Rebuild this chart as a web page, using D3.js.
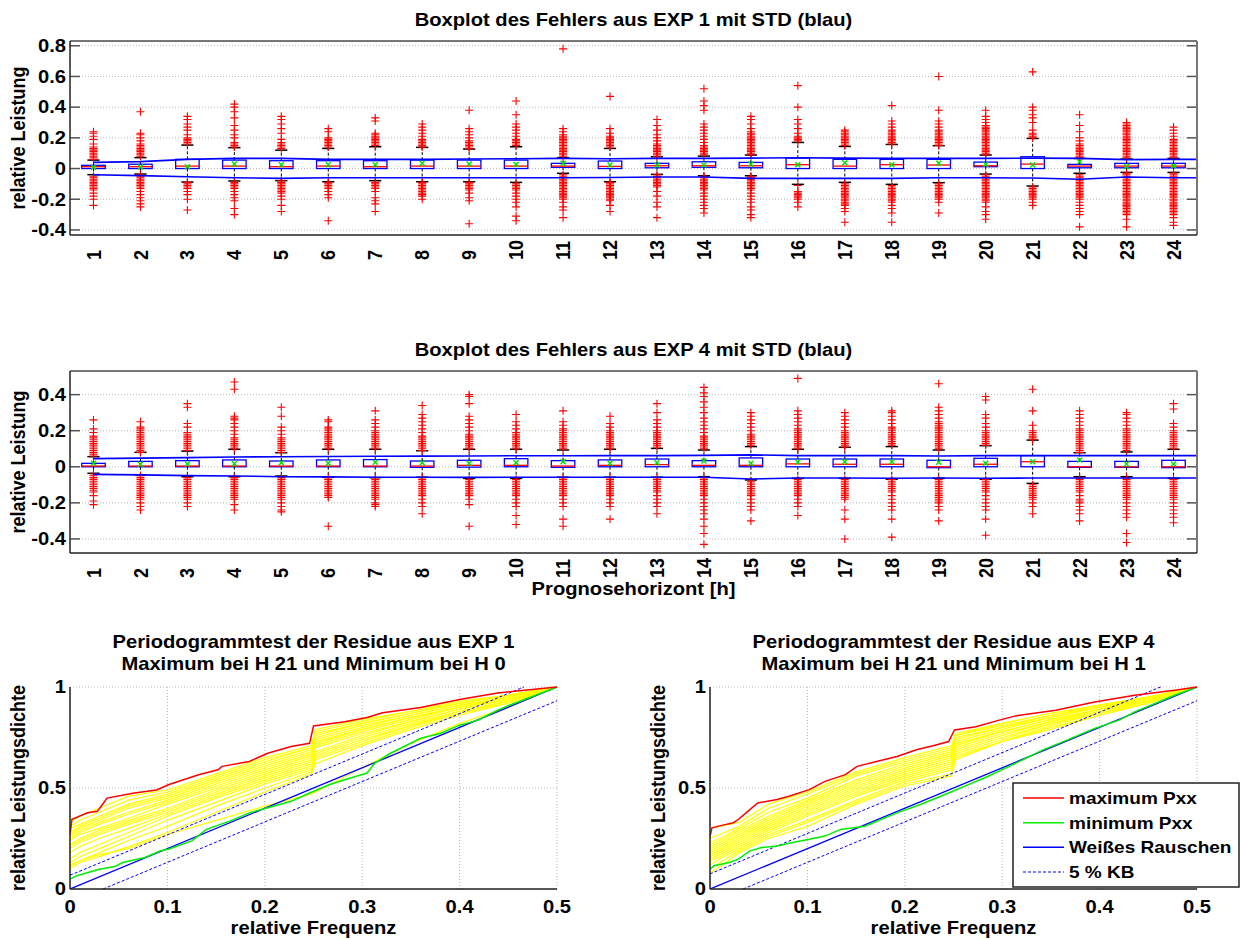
<!DOCTYPE html>
<html><head><meta charset="utf-8">
<script src="https://cdn.jsdelivr.net/npm/d3@7"></script>
<style>body{margin:0;background:#fff}svg{display:block}text{font-family:"Liberation Sans",Arial,sans-serif;font-weight:bold;fill:#000}</style>
</head><body><svg id="c" width="1241" height="940"></svg>
<script>
// ---------------- DATA ----------------
const hourLabels = ["1","2","3","4","5","6","7","8","9","10","11","12","13","14","15","16","17","18","19","20","21","22","23","24"];

const exp1YTicks = [-0.4,-0.2,0,0.2,0.4,0.6,0.8];
const exp1YTickLabels = ["-0.4","-0.2","0","0.2","0.4","0.6","0.8"];
const exp4YTicks = [-0.4,-0.2,0,0.2,0.4];
const exp4YTickLabels = ["-0.4","-0.2","0","0.2","0.4"];

const exp1Q1 = [0,0,0,0,0,0,0,0,0,0,0.008,0,0.005,0.008,0.005,0,0,0,0,0.012,0,0.005,0.005,0.005];
const exp1Median = [0.012,0.012,0.016,0.016,0.012,0.016,0.012,0.016,0.016,0.016,0.016,0.014,0.018,0.018,0.018,0.025,0.016,0.025,0.023,0.018,0.029,0.016,0.016,0.016];
const exp1Q3 = [0.021,0.028,0.060,0.055,0.051,0.051,0.051,0.055,0.055,0.055,0.034,0.049,0.034,0.044,0.040,0.068,0.060,0.060,0.060,0.042,0.077,0.027,0.034,0.034];
const exp1WhiskerLow = [-0.040,-0.036,-0.088,-0.081,-0.079,-0.086,-0.079,-0.086,-0.086,-0.090,-0.031,-0.086,-0.038,-0.047,-0.047,-0.103,-0.090,-0.103,-0.092,-0.036,-0.114,-0.031,-0.025,-0.025];
const exp1WhiskerHigh = [0.055,0.071,0.153,0.136,0.120,0.131,0.142,0.138,0.127,0.142,0.071,0.131,0.077,0.081,0.088,0.170,0.144,0.157,0.149,0.088,0.196,0.066,0.062,0.066];
const exp1Mean = [0.008,0.010,0.012,0.029,0.025,0.025,0.025,0.034,0.029,0.027,0.034,0.023,0.023,0.023,0.029,0.025,0.038,0.025,0.034,0.027,0.023,0.044,0.014,0.016];
const exp1StdUpper = [0.040,0.045,0.060,0.066,0.066,0.060,0.060,0.060,0.062,0.064,0.066,0.064,0.066,0.066,0.068,0.070,0.068,0.066,0.066,0.066,0.068,0.066,0.058,0.060];
const exp1StdLower = [-0.040,-0.046,-0.053,-0.060,-0.064,-0.060,-0.060,-0.060,-0.060,-0.060,-0.060,-0.058,-0.055,-0.055,-0.064,-0.064,-0.064,-0.064,-0.060,-0.060,-0.062,-0.070,-0.055,-0.060];
const exp1OutliersHigh = [
 [0.06,0.07,0.08,0.09,0.10,0.11,0.12,0.13,0.14,0.16,0.19,0.21,0.23,0.24],
 [0.08,0.09,0.10,0.11,0.12,0.13,0.14,0.15,0.16,0.18,0.20,0.22,0.23,0.37],
 [0.16,0.17,0.18,0.19,0.20,0.22,0.25,0.27,0.29,0.32,0.34],
 [0.14,0.15,0.16,0.17,0.20,0.22,0.25,0.28,0.33,0.37,0.40,0.42],
 [0.13,0.14,0.15,0.16,0.17,0.19,0.23,0.26,0.29,0.32,0.34],
 [0.14,0.15,0.16,0.17,0.18,0.19,0.20,0.24,0.26],
 [0.15,0.16,0.17,0.18,0.19,0.20,0.21,0.22,0.23,0.31,0.33],
 [0.14,0.15,0.16,0.17,0.18,0.19,0.21,0.23,0.25,0.27,0.29],
 [0.13,0.14,0.15,0.16,0.17,0.18,0.20,0.22,0.24,0.26,0.38],
 [0.15,0.16,0.17,0.18,0.19,0.21,0.23,0.25,0.27,0.29,0.35,0.44],
 [0.08,0.09,0.10,0.11,0.12,0.13,0.14,0.15,0.16,0.17,0.18,0.19,0.20,0.21,0.22,0.24,0.26,0.78],
 [0.14,0.15,0.16,0.17,0.18,0.19,0.20,0.21,0.23,0.26,0.47],
 [0.08,0.09,0.10,0.11,0.12,0.13,0.14,0.15,0.16,0.18,0.20,0.22,0.25,0.28,0.32],
 [0.09,0.10,0.11,0.12,0.13,0.14,0.15,0.17,0.19,0.21,0.23,0.25,0.27,0.29,0.38,0.41,0.44,0.52],
 [0.09,0.10,0.11,0.12,0.13,0.14,0.15,0.16,0.17,0.18,0.19,0.20,0.21,0.22,0.23,0.24,0.26,0.29,0.32,0.34],
 [0.18,0.19,0.20,0.21,0.23,0.26,0.29,0.32,0.40,0.54],
 [0.15,0.16,0.17,0.18,0.19,0.20,0.21,0.22,0.23,0.24,0.25],
 [0.16,0.17,0.18,0.19,0.20,0.21,0.22,0.23,0.24,0.25,0.27,0.29,0.31,0.41],
 [0.15,0.16,0.17,0.18,0.19,0.20,0.21,0.22,0.23,0.24,0.25,0.27,0.29,0.31,0.38,0.60],
 [0.09,0.10,0.11,0.12,0.13,0.14,0.15,0.16,0.17,0.18,0.19,0.20,0.21,0.22,0.23,0.24,0.25,0.26,0.27,0.28,0.30,0.32,0.34,0.38],
 [0.20,0.21,0.22,0.23,0.25,0.30,0.33,0.35,0.38,0.40,0.63],
 [0.07,0.08,0.09,0.10,0.11,0.12,0.13,0.14,0.15,0.16,0.18,0.20,0.24,0.28,0.35],
 [0.07,0.08,0.09,0.10,0.11,0.12,0.13,0.14,0.15,0.16,0.17,0.18,0.19,0.20,0.21,0.22,0.23,0.24,0.25,0.26,0.27,0.28,0.29,0.30],
 [0.07,0.08,0.09,0.10,0.11,0.12,0.13,0.14,0.15,0.16,0.17,0.18,0.19,0.21,0.23,0.25,0.27]
];
const exp1OutliersLow = [
 [-0.05,-0.06,-0.07,-0.08,-0.09,-0.10,-0.11,-0.12,-0.13,-0.14,-0.16,-0.18,-0.20,-0.24],
 [-0.04,-0.05,-0.06,-0.07,-0.08,-0.09,-0.10,-0.11,-0.12,-0.13,-0.15,-0.17,-0.19,-0.21,-0.23,-0.25],
 [-0.09,-0.10,-0.11,-0.12,-0.13,-0.15,-0.17,-0.20,-0.27],
 [-0.09,-0.10,-0.11,-0.12,-0.13,-0.15,-0.17,-0.19,-0.21,-0.26,-0.30],
 [-0.08,-0.09,-0.10,-0.11,-0.12,-0.13,-0.14,-0.15,-0.16,-0.18,-0.20,-0.24,-0.28],
 [-0.09,-0.10,-0.11,-0.12,-0.13,-0.15,-0.17,-0.19,-0.34],
 [-0.09,-0.10,-0.11,-0.12,-0.13,-0.15,-0.19,-0.21,-0.23,-0.28],
 [-0.09,-0.10,-0.11,-0.12,-0.13,-0.14,-0.15,-0.16,-0.17,-0.18,-0.20],
 [-0.09,-0.10,-0.11,-0.12,-0.13,-0.14,-0.16,-0.19,-0.21,-0.36],
 [-0.10,-0.11,-0.12,-0.13,-0.14,-0.16,-0.18,-0.20,-0.22,-0.25,-0.31,-0.34],
 [-0.04,-0.05,-0.06,-0.07,-0.08,-0.09,-0.10,-0.11,-0.12,-0.13,-0.14,-0.15,-0.16,-0.17,-0.18,-0.19,-0.20,-0.22,-0.25,-0.27,-0.32],
 [-0.09,-0.10,-0.11,-0.12,-0.13,-0.14,-0.15,-0.16,-0.17,-0.18,-0.19,-0.20,-0.21,-0.24,-0.28],
 [-0.04,-0.05,-0.06,-0.07,-0.08,-0.09,-0.10,-0.11,-0.12,-0.15,-0.18,-0.22,-0.25,-0.32],
 [-0.05,-0.06,-0.07,-0.08,-0.09,-0.10,-0.11,-0.12,-0.13,-0.14,-0.16,-0.18,-0.20,-0.22,-0.24,-0.26,-0.29],
 [-0.05,-0.06,-0.07,-0.08,-0.09,-0.10,-0.11,-0.12,-0.13,-0.14,-0.16,-0.18,-0.20,-0.22,-0.25,-0.27,-0.30,-0.32],
 [-0.11,-0.15,-0.16,-0.17,-0.18,-0.19,-0.20,-0.22,-0.25],
 [-0.10,-0.11,-0.12,-0.13,-0.14,-0.15,-0.16,-0.17,-0.18,-0.19,-0.20,-0.21,-0.22,-0.23,-0.24,-0.26,-0.28,-0.35],
 [-0.11,-0.12,-0.13,-0.14,-0.15,-0.16,-0.17,-0.18,-0.19,-0.20,-0.21,-0.22,-0.24,-0.26,-0.29,-0.35],
 [-0.10,-0.11,-0.12,-0.13,-0.14,-0.15,-0.16,-0.17,-0.18,-0.19,-0.20,-0.22,-0.29],
 [-0.04,-0.05,-0.06,-0.07,-0.08,-0.09,-0.10,-0.11,-0.12,-0.13,-0.14,-0.15,-0.16,-0.17,-0.18,-0.19,-0.20,-0.21,-0.22,-0.25,-0.28,-0.30,-0.33],
 [-0.12,-0.13,-0.14,-0.15,-0.16,-0.17,-0.18,-0.19,-0.20,-0.22,-0.24],
 [-0.04,-0.05,-0.06,-0.07,-0.08,-0.09,-0.10,-0.11,-0.12,-0.13,-0.14,-0.15,-0.16,-0.17,-0.18,-0.19,-0.20,-0.22,-0.24,-0.26,-0.28,-0.30,-0.38],
 [-0.03,-0.04,-0.05,-0.06,-0.07,-0.08,-0.09,-0.10,-0.11,-0.12,-0.13,-0.14,-0.15,-0.16,-0.17,-0.18,-0.19,-0.20,-0.21,-0.22,-0.23,-0.24,-0.25,-0.26,-0.27,-0.28,-0.29,-0.30,-0.33,-0.38],
 [-0.03,-0.04,-0.05,-0.06,-0.07,-0.08,-0.09,-0.10,-0.11,-0.12,-0.13,-0.14,-0.15,-0.16,-0.17,-0.18,-0.19,-0.20,-0.21,-0.22,-0.23,-0.24,-0.25,-0.26,-0.27,-0.28,-0.29,-0.30,-0.32,-0.35,-0.37]
];

const exp4Q1 = [0,0,0,0,0,0,0,-0.003,-0.002,0,-0.003,0,0,0,0,0,0,0,-0.005,0,0,-0.003,-0.003,-0.005];
const exp4Median = [0.004,0.004,0.004,0.004,0.004,0.004,0.004,0.004,0.008,0.008,0.004,0.008,0.012,0.008,0.008,0.016,0.014,0.014,0.0,0.014,0.028,0.0,0.0,0.0];
const exp4Q3 = [0.019,0.030,0.034,0.038,0.032,0.038,0.040,0.032,0.036,0.045,0.034,0.038,0.043,0.034,0.049,0.043,0.043,0.043,0.036,0.047,0.062,0.030,0.030,0.036];
const exp4WhiskerLow = [-0.036,-0.045,-0.055,-0.055,-0.051,-0.058,-0.060,-0.058,-0.064,-0.064,-0.058,-0.058,-0.058,-0.055,-0.073,-0.064,-0.064,-0.069,-0.064,-0.069,-0.092,-0.055,-0.055,-0.064];
const exp4WhiskerHigh = [0.056,0.080,0.087,0.097,0.078,0.097,0.097,0.089,0.097,0.097,0.093,0.097,0.102,0.093,0.112,0.097,0.108,0.112,0.093,0.117,0.148,0.078,0.082,0.097];
const exp4Mean = [0.019,0.014,0.016,0.017,0.023,0.019,0.025,0.023,0.019,0.023,0.028,0.019,0.023,0.032,0.019,0.027,0.028,0.028,0.025,0.019,0.028,0.038,0.016,0.016];
const exp4StdUpper = [0.045,0.048,0.051,0.054,0.056,0.057,0.058,0.059,0.060,0.061,0.061,0.062,0.062,0.063,0.066,0.062,0.062,0.062,0.060,0.062,0.062,0.062,0.062,0.062];
const exp4StdLower = [-0.042,-0.045,-0.049,-0.051,-0.055,-0.056,-0.058,-0.058,-0.059,-0.058,-0.058,-0.058,-0.058,-0.058,-0.068,-0.062,-0.062,-0.064,-0.062,-0.064,-0.062,-0.062,-0.062,-0.062];
const exp4OutliersHigh = [
 [0.06,0.07,0.08,0.09,0.10,0.11,0.12,0.13,0.14,0.15,0.16,0.17,0.19,0.21,0.26],
 [0.08,0.09,0.10,0.11,0.12,0.13,0.14,0.15,0.16,0.17,0.18,0.19,0.20,0.21,0.22,0.25],
 [0.09,0.10,0.11,0.12,0.13,0.14,0.15,0.16,0.17,0.18,0.19,0.22,0.24,0.33,0.35],
 [0.10,0.11,0.12,0.13,0.14,0.15,0.16,0.18,0.20,0.22,0.24,0.26,0.27,0.28,0.43,0.47],
 [0.08,0.09,0.10,0.11,0.12,0.13,0.14,0.15,0.16,0.18,0.20,0.22,0.28,0.33],
 [0.10,0.11,0.12,0.13,0.14,0.15,0.16,0.17,0.18,0.19,0.20,0.21,0.22,0.25,0.26],
 [0.10,0.11,0.12,0.13,0.14,0.15,0.16,0.17,0.18,0.19,0.20,0.22,0.24,0.26,0.31],
 [0.09,0.10,0.11,0.12,0.13,0.14,0.15,0.16,0.17,0.19,0.21,0.23,0.25,0.27,0.29,0.34],
 [0.10,0.11,0.12,0.13,0.14,0.15,0.16,0.17,0.18,0.20,0.22,0.24,0.26,0.28,0.35,0.39,0.40],
 [0.10,0.11,0.12,0.13,0.14,0.15,0.16,0.17,0.18,0.19,0.21,0.23,0.25,0.29],
 [0.10,0.11,0.12,0.13,0.14,0.15,0.16,0.17,0.18,0.19,0.20,0.21,0.23,0.25,0.31],
 [0.10,0.11,0.12,0.13,0.14,0.15,0.16,0.17,0.18,0.19,0.20,0.22,0.24,0.28],
 [0.11,0.12,0.13,0.14,0.15,0.16,0.17,0.18,0.19,0.20,0.22,0.24,0.26,0.30,0.35],
 [0.10,0.11,0.12,0.13,0.14,0.15,0.16,0.17,0.19,0.21,0.23,0.25,0.27,0.30,0.33,0.36,0.39,0.41,0.44],
 [0.12,0.13,0.14,0.15,0.16,0.17,0.18,0.20,0.22,0.24,0.26,0.28,0.30],
 [0.10,0.11,0.12,0.13,0.14,0.15,0.16,0.17,0.18,0.19,0.20,0.21,0.23,0.25,0.27,0.29,0.31,0.49],
 [0.11,0.12,0.13,0.14,0.15,0.16,0.17,0.18,0.19,0.20,0.22,0.24,0.26,0.28,0.30],
 [0.12,0.13,0.14,0.15,0.16,0.17,0.18,0.19,0.20,0.21,0.22,0.24,0.26,0.28,0.30,0.31],
 [0.10,0.11,0.12,0.13,0.14,0.15,0.16,0.17,0.18,0.19,0.20,0.21,0.22,0.23,0.24,0.25,0.27,0.29,0.31,0.33,0.46],
 [0.12,0.13,0.14,0.15,0.16,0.17,0.18,0.19,0.20,0.22,0.24,0.27,0.29,0.37,0.39],
 [0.15,0.16,0.17,0.18,0.19,0.20,0.23,0.31,0.43],
 [0.08,0.09,0.10,0.11,0.12,0.13,0.14,0.15,0.16,0.17,0.18,0.19,0.20,0.21,0.23,0.25,0.27,0.29,0.31],
 [0.09,0.10,0.11,0.12,0.13,0.14,0.15,0.16,0.17,0.18,0.19,0.20,0.21,0.23,0.25,0.27,0.29,0.30],
 [0.10,0.11,0.12,0.13,0.14,0.15,0.16,0.17,0.18,0.19,0.20,0.22,0.24,0.32,0.35]
];
const exp4OutliersLow = [
 [-0.04,-0.05,-0.06,-0.07,-0.08,-0.09,-0.10,-0.11,-0.12,-0.13,-0.14,-0.16,-0.19,-0.21],
 [-0.05,-0.06,-0.07,-0.08,-0.09,-0.10,-0.11,-0.12,-0.13,-0.14,-0.15,-0.16,-0.17,-0.18,-0.20,-0.22,-0.24],
 [-0.06,-0.07,-0.08,-0.09,-0.10,-0.11,-0.12,-0.13,-0.14,-0.15,-0.16,-0.17,-0.18,-0.20,-0.22],
 [-0.06,-0.07,-0.08,-0.09,-0.10,-0.11,-0.12,-0.13,-0.14,-0.15,-0.16,-0.17,-0.18,-0.21,-0.24],
 [-0.06,-0.07,-0.08,-0.09,-0.10,-0.11,-0.12,-0.13,-0.14,-0.15,-0.16,-0.17,-0.18,-0.20,-0.22,-0.24,-0.25],
 [-0.06,-0.07,-0.08,-0.09,-0.10,-0.11,-0.12,-0.13,-0.14,-0.15,-0.16,-0.17,-0.33],
 [-0.06,-0.07,-0.08,-0.09,-0.10,-0.11,-0.12,-0.13,-0.14,-0.15,-0.16,-0.17,-0.18,-0.20,-0.21,-0.22],
 [-0.06,-0.07,-0.08,-0.09,-0.10,-0.11,-0.12,-0.13,-0.14,-0.15,-0.16,-0.18,-0.20,-0.22,-0.26],
 [-0.07,-0.08,-0.09,-0.10,-0.11,-0.12,-0.13,-0.14,-0.15,-0.16,-0.18,-0.21,-0.33],
 [-0.07,-0.08,-0.09,-0.10,-0.11,-0.12,-0.13,-0.14,-0.15,-0.16,-0.18,-0.20,-0.22,-0.27,-0.32],
 [-0.06,-0.07,-0.08,-0.09,-0.10,-0.11,-0.12,-0.13,-0.14,-0.15,-0.16,-0.18,-0.20,-0.22,-0.29,-0.33],
 [-0.06,-0.07,-0.08,-0.09,-0.10,-0.11,-0.12,-0.13,-0.14,-0.15,-0.16,-0.18,-0.20,-0.22,-0.29],
 [-0.06,-0.07,-0.08,-0.09,-0.10,-0.11,-0.12,-0.13,-0.14,-0.16,-0.18,-0.20,-0.22,-0.26],
 [-0.06,-0.07,-0.08,-0.09,-0.10,-0.11,-0.12,-0.13,-0.14,-0.15,-0.16,-0.18,-0.20,-0.22,-0.24,-0.26,-0.29,-0.33,-0.37,-0.43],
 [-0.08,-0.09,-0.10,-0.11,-0.12,-0.13,-0.14,-0.15,-0.16,-0.18,-0.20,-0.22,-0.24,-0.30],
 [-0.07,-0.08,-0.09,-0.10,-0.11,-0.12,-0.13,-0.14,-0.15,-0.16,-0.18,-0.20,-0.22,-0.27],
 [-0.07,-0.08,-0.09,-0.10,-0.11,-0.12,-0.13,-0.14,-0.15,-0.16,-0.17,-0.18,-0.24,-0.29,-0.40],
 [-0.07,-0.08,-0.09,-0.10,-0.11,-0.12,-0.13,-0.14,-0.16,-0.18,-0.20,-0.22,-0.24,-0.29,-0.39],
 [-0.07,-0.08,-0.09,-0.10,-0.11,-0.12,-0.13,-0.14,-0.15,-0.16,-0.17,-0.18,-0.19,-0.20,-0.22,-0.24,-0.30],
 [-0.07,-0.08,-0.09,-0.10,-0.11,-0.12,-0.13,-0.14,-0.16,-0.18,-0.20,-0.22,-0.24,-0.29,-0.38],
 [-0.10,-0.11,-0.12,-0.13,-0.14,-0.15,-0.16,-0.17,-0.18,-0.20,-0.22,-0.26],
 [-0.06,-0.07,-0.08,-0.09,-0.10,-0.11,-0.12,-0.13,-0.14,-0.16,-0.18,-0.19,-0.20,-0.22,-0.24,-0.26,-0.30],
 [-0.06,-0.07,-0.08,-0.09,-0.10,-0.11,-0.12,-0.13,-0.14,-0.15,-0.16,-0.17,-0.18,-0.20,-0.22,-0.24,-0.26,-0.28,-0.37,-0.42],
 [-0.07,-0.08,-0.09,-0.10,-0.11,-0.12,-0.13,-0.14,-0.15,-0.16,-0.17,-0.18,-0.20,-0.22,-0.24,-0.26,-0.28,-0.31]
];

// Periodogram data
const perXTicks = [0,0.1,0.2,0.3,0.4,0.5];
const perXTickLabels = ["0","0.1","0.2","0.3","0.4","0.5"];
const perYTicks = [0,0.5,1];
const perYTickLabels = ["0","0.5","1"];
const yellowF = [0,0.01,0.03,0.06,0.1,0.15,0.2,0.248,0.252,0.3,0.35,0.4,0.45,0.5];
const exp1Yellow = [
 [0.33,0.36,0.40,0.46,0.49,0.57,0.65,0.71,0.79,0.84,0.88,0.93,0.96,1],
 [0.31,0.34,0.38,0.44,0.48,0.56,0.64,0.70,0.78,0.83,0.88,0.92,0.96,1],
 [0.30,0.32,0.36,0.42,0.47,0.55,0.63,0.70,0.77,0.82,0.87,0.92,0.96,1],
 [0.28,0.31,0.35,0.41,0.46,0.54,0.62,0.69,0.76,0.82,0.87,0.92,0.96,1],
 [0.27,0.30,0.34,0.40,0.45,0.53,0.61,0.68,0.75,0.81,0.86,0.91,0.95,1],
 [0.26,0.29,0.33,0.38,0.44,0.52,0.60,0.67,0.74,0.80,0.86,0.91,0.95,1],
 [0.25,0.28,0.32,0.37,0.43,0.51,0.59,0.66,0.73,0.79,0.85,0.90,0.95,1],
 [0.24,0.27,0.30,0.35,0.42,0.50,0.58,0.65,0.72,0.79,0.85,0.90,0.95,1],
 [0.22,0.25,0.29,0.34,0.40,0.49,0.57,0.64,0.71,0.78,0.84,0.90,0.94,1],
 [0.21,0.24,0.28,0.33,0.39,0.48,0.56,0.63,0.70,0.77,0.83,0.89,0.94,1],
 [0.20,0.23,0.27,0.32,0.38,0.47,0.55,0.62,0.68,0.76,0.83,0.89,0.94,1],
 [0.18,0.21,0.25,0.30,0.37,0.46,0.54,0.61,0.67,0.75,0.82,0.88,0.93,1],
 [0.15,0.18,0.22,0.28,0.36,0.45,0.53,0.60,0.66,0.74,0.81,0.88,0.93,1],
 [0.13,0.16,0.20,0.26,0.34,0.43,0.52,0.59,0.65,0.73,0.81,0.87,0.93,1],
 [0.11,0.14,0.18,0.24,0.31,0.41,0.50,0.58,0.64,0.72,0.80,0.87,0.92,1],
 [0.10,0.13,0.16,0.21,0.28,0.38,0.48,0.57,0.62,0.71,0.79,0.86,0.92,1],
 [0.12,0.14,0.17,0.20,0.27,0.34,0.41,0.47,0.48,0.60,0.72,0.82,0.90,1]
];
const exp4Yellow = [
 [0.30,0.31,0.33,0.42,0.48,0.58,0.65,0.71,0.77,0.82,0.87,0.91,0.95,1],
 [0.25,0.27,0.31,0.40,0.47,0.57,0.64,0.70,0.76,0.82,0.87,0.91,0.95,1],
 [0.23,0.25,0.30,0.38,0.45,0.56,0.63,0.69,0.76,0.81,0.86,0.91,0.95,1],
 [0.22,0.24,0.29,0.36,0.44,0.54,0.62,0.68,0.75,0.80,0.86,0.90,0.95,1],
 [0.21,0.23,0.28,0.35,0.43,0.53,0.61,0.67,0.74,0.80,0.85,0.90,0.94,1],
 [0.20,0.22,0.27,0.34,0.42,0.52,0.60,0.66,0.73,0.79,0.85,0.90,0.94,1],
 [0.19,0.21,0.26,0.33,0.41,0.51,0.59,0.65,0.72,0.78,0.84,0.89,0.94,1],
 [0.18,0.20,0.25,0.32,0.40,0.50,0.58,0.64,0.71,0.78,0.84,0.89,0.94,1],
 [0.17,0.19,0.24,0.31,0.39,0.49,0.57,0.63,0.70,0.77,0.83,0.89,0.93,1],
 [0.16,0.18,0.23,0.30,0.38,0.48,0.56,0.62,0.69,0.76,0.83,0.88,0.93,1],
 [0.15,0.17,0.22,0.29,0.37,0.47,0.55,0.61,0.68,0.75,0.82,0.88,0.93,1],
 [0.14,0.16,0.21,0.28,0.36,0.46,0.54,0.60,0.67,0.74,0.82,0.87,0.93,1],
 [0.12,0.15,0.20,0.27,0.34,0.44,0.53,0.59,0.66,0.73,0.81,0.87,0.92,1],
 [0.10,0.13,0.19,0.26,0.33,0.43,0.52,0.57,0.65,0.73,0.80,0.86,0.92,1],
 [0.08,0.11,0.18,0.25,0.31,0.42,0.51,0.56,0.64,0.73,0.79,0.86,0.92,1]
];
const exp1MaxF = [0,0.002,0.018,0.028,0.032,0.038,0.066,0.089,0.101,0.132,0.152,0.156,0.184,0.203,0.227,0.246,0.250,0.282,0.305,0.321,0.36,0.40,0.439,0.459,0.5];
const exp1MaxV = [0.27,0.345,0.377,0.385,0.41,0.45,0.475,0.49,0.516,0.566,0.59,0.607,0.631,0.672,0.705,0.721,0.807,0.828,0.849,0.872,0.898,0.938,0.970,0.98,1.0];
const exp1MinF = [0,0.007,0.03,0.046,0.054,0.077,0.093,0.101,0.125,0.14,0.164,0.184,0.203,0.227,0.246,0.266,0.282,0.305,0.313,0.329,0.36,0.38,0.40,0.419,0.439,0.451,0.478,0.5];
const exp1MinV = [0.049,0.066,0.098,0.111,0.131,0.156,0.189,0.197,0.238,0.295,0.336,0.377,0.402,0.434,0.475,0.516,0.541,0.574,0.623,0.672,0.746,0.77,0.811,0.836,0.885,0.91,0.959,1.0];
const exp4MaxF = [0,0.002,0.012,0.024,0.029,0.037,0.049,0.069,0.081,0.102,0.118,0.139,0.151,0.171,0.192,0.212,0.232,0.245,0.251,0.273,0.297,0.314,0.355,0.395,0.436,0.477,0.5];
const exp4MaxV = [0.26,0.303,0.315,0.328,0.344,0.377,0.426,0.443,0.459,0.492,0.533,0.566,0.607,0.631,0.656,0.689,0.713,0.73,0.787,0.803,0.836,0.857,0.885,0.926,0.959,0.984,1.0];
const exp4MinF = [0,0.004,0.02,0.029,0.041,0.053,0.069,0.081,0.102,0.118,0.134,0.159,0.192,0.216,0.245,0.261,0.285,0.314,0.342,0.367,0.395,0.42,0.436,0.477,0.5];
const exp4MinV = [0.098,0.115,0.131,0.148,0.189,0.205,0.213,0.226,0.246,0.262,0.295,0.311,0.377,0.418,0.475,0.508,0.557,0.623,0.689,0.738,0.795,0.836,0.877,0.959,1.0];
const whiteNoiseF = [0,0.5];
const whiteNoiseV = [0,1];
const exp1KbUpperF = [0,0.466], exp1KbUpperV = [0.068,1];
const exp1KbLowerF = [0.034,0.5], exp1KbLowerV = [0,0.932];
const exp4KbUpperF = [0,0.4625], exp4KbUpperV = [0.075,1];
const exp4KbLowerF = [0.034,0.5], exp4KbLowerV = [0,0.932];
const legendLabels = ["maximum Pxx","minimum Pxx","Weißes Rauschen","5 % KB"];

// ---------------- DRAWING ----------------
const svg = d3.select('#c');
const SX = 1.12;
const FS = 18;
let clipId = 0;
function label(g, x, y, str, o = {}) {
  const size = o.size || FS;
  const tr = o.rotate ? `translate(${x},${y}) rotate(-90) scale(1,${SX})` : `translate(${x},${y}) scale(${SX},1)`;
  return g.append('text').attr('transform', tr).attr('text-anchor', o.anchor || 'middle')
    .attr('dy', o.dy == null ? '0.35em' : o.dy).style('font-size', size + 'px').text(str);
}
function clip(g, l, t, r, b) {
  const id = 'clip' + (clipId++);
  g.append('clipPath').attr('id', id).append('rect').attr('x', l).attr('y', t).attr('width', r - l).attr('height', b - t);
  return 'url(#' + id + ')';
}

function boxPanel(cfg) {
  const g = svg.append('g');
  const x = d3.scaleBand().domain(hourLabels).range([cfg.left, cfg.right]).padding(0);
  const y = d3.scaleLinear().domain(cfg.yDomain).range([cfg.bottom, cfg.top]);
  const bw = x.bandwidth();
  const cx = h => x(h) + bw / 2;
  const cp = clip(g, cfg.left, cfg.top, cfg.right, cfg.bottom);
  g.selectAll(null).data(cfg.yTicks).join('line')
    .attr('x1', cfg.left).attr('x2', cfg.right).attr('y1', d => y(d)).attr('y2', d => y(d))
    .attr('stroke', '#b8b8b8').attr('stroke-dasharray', '1,2').attr('stroke-width', 1);
  g.selectAll(null).data(cfg.yTicks).join('line')
    .attr('x1', cfg.left).attr('x2', cfg.left + 10).attr('y1', d => y(d)).attr('y2', d => y(d))
    .attr('stroke', '#555').attr('stroke-width', 1.5);
  g.selectAll(null).data(cfg.yTicks).join('line')
    .attr('x1', cfg.right - 10).attr('x2', cfg.right).attr('y1', d => y(d)).attr('y2', d => y(d))
    .attr('stroke', '#555').attr('stroke-width', 1.5);
  cfg.yTicks.forEach((t, i) => label(g, cfg.left - 4, y(t), cfg.yTickLabels[i], { anchor: 'end' }));

  const plot = g.append('g').attr('clip-path', cp);
  hourLabels.forEach((h, i) => {
    const c = cx(h);
    plot.append('line').attr('x1', c).attr('x2', c).attr('y1', y(cfg.q3[i])).attr('y2', y(cfg.whi[i]))
      .attr('stroke', '#000').attr('stroke-dasharray', '3,2').attr('stroke-width', 1);
    plot.append('line').attr('x1', c).attr('x2', c).attr('y1', y(cfg.q1[i])).attr('y2', y(cfg.wlo[i]))
      .attr('stroke', '#000').attr('stroke-dasharray', '3,2').attr('stroke-width', 1);
    [cfg.whi[i], cfg.wlo[i]].forEach(v => plot.append('line')
      .attr('x1', c - bw * 0.13).attr('x2', c + bw * 0.13).attr('y1', y(v)).attr('y2', y(v))
      .attr('stroke', '#000').attr('stroke-width', 1.5));
  });
  hourLabels.forEach((h, i) => {
    const c = cx(h);
    cfg.outHi[i].concat(cfg.outLo[i]).forEach(v => plot.append('path')
      .attr('d', 'M-4,0H4M0,-4V4').attr('transform', `translate(${c},${y(v)})`)
      .attr('stroke', '#ff0000').attr('stroke-width', 1.1).attr('fill', 'none'));
  });
  hourLabels.forEach((h, i) => {
    const c = cx(h);
    plot.append('rect').attr('x', c - bw * 0.25).attr('width', bw * 0.5)
      .attr('y', y(cfg.q3[i])).attr('height', Math.max(1, y(cfg.q1[i]) - y(cfg.q3[i])))
      .attr('fill', 'none').attr('stroke', '#0000ff').attr('stroke-width', 1.3);
    plot.append('line').attr('x1', c - bw * 0.25).attr('x2', c + bw * 0.25)
      .attr('y1', y(cfg.med[i])).attr('y2', y(cfg.med[i])).attr('stroke', '#ff0000').attr('stroke-width', 1.3);
    plot.append('path').attr('d', 'M-2.5,-2.5L2.5,2.5M-2.5,2.5L2.5,-2.5')
      .attr('transform', `translate(${c},${y(cfg.mean[i])})`).attr('stroke', '#00e000').attr('stroke-width', 1.4);
  });
  [cfg.stdUp, cfg.stdLo].forEach(arr => {
    const pts = hourLabels.map((h, i) => [cx(h), y(arr[i])]);
    pts.push([x.range()[1], y(arr[arr.length - 1])]);
    plot.append('path').attr('d', d3.line()(pts)).attr('fill', 'none').attr('stroke', '#0000ff').attr('stroke-width', 1.6);
  });
  g.append('line').attr('x1', cfg.left).attr('x2', cfg.right).attr('y1', cfg.top).attr('y2', cfg.top).attr('stroke', '#777').attr('stroke-width', 2);
  g.append('line').attr('x1', cfg.right).attr('x2', cfg.right).attr('y1', cfg.top).attr('y2', cfg.bottom).attr('stroke', '#777').attr('stroke-width', 2);
  g.append('line').attr('x1', cfg.left).attr('x2', cfg.left).attr('y1', cfg.top).attr('y2', cfg.bottom).attr('stroke', '#222').attr('stroke-width', 1.5);
  g.append('line').attr('x1', cfg.left).attr('x2', cfg.right).attr('y1', cfg.bottom).attr('y2', cfg.bottom).attr('stroke', '#222').attr('stroke-width', 1.5);
  hourLabels.forEach(h => label(g, cx(h), cfg.xLabelBase, h, { rotate: true, anchor: 'start' }));
  label(g, (cfg.left + cfg.right) / 2, cfg.top - 21, cfg.title);
  label(g, 18, (cfg.top + cfg.bottom) / 2, 'relative Leistung', { rotate: true });
  if (cfg.xTitle) label(g, (cfg.left + cfg.right) / 2, cfg.xTitleY, cfg.xTitle);
}

function perPanel(cfg) {
  const g = svg.append('g');
  const x = d3.scaleLinear().domain([0, 0.5]).range([cfg.left, cfg.right]);
  const y = d3.scaleLinear().domain([0, 1]).range([cfg.bottom, cfg.top]);
  const cp = clip(g, cfg.left, cfg.top - 1, cfg.right + 1, cfg.bottom);
  g.selectAll(null).data(perXTicks).join('line')
    .attr('x1', d => x(d)).attr('x2', d => x(d)).attr('y1', cfg.top).attr('y2', cfg.bottom)
    .attr('stroke', '#b8b8b8').attr('stroke-dasharray', '1,2');
  g.selectAll(null).data(perYTicks).join('line')
    .attr('x1', cfg.left).attr('x2', cfg.right).attr('y1', d => y(d)).attr('y2', d => y(d))
    .attr('stroke', '#b8b8b8').attr('stroke-dasharray', '1,2');
  const plot = g.append('g').attr('clip-path', cp);
  const line = d3.line().x(d => x(d[0])).y(d => y(d[1]));
  const zip = (F, V) => F.map((f, i) => [f, V[i]]);
  cfg.yellow.forEach(arr => plot.append('path').attr('d', line(zip(yellowF, arr)))
    .attr('fill', 'none').attr('stroke', '#ffff00').attr('stroke-width', 1.2));
  plot.append('path').attr('d', line(zip(whiteNoiseF, whiteNoiseV))).attr('fill', 'none').attr('stroke', '#0000ff').attr('stroke-width', 1.3);
  [[cfg.kbUF, cfg.kbUV], [cfg.kbLF, cfg.kbLV]].forEach(([F, V]) => plot.append('path').attr('d', line(zip(F, V)))
    .attr('fill', 'none').attr('stroke', '#0000ff').attr('stroke-width', 1).attr('stroke-dasharray', '3,2'));
  plot.append('path').attr('d', line(zip(cfg.minF, cfg.minV))).attr('fill', 'none').attr('stroke', '#00ee00').attr('stroke-width', 1.5);
  plot.append('path').attr('d', line(zip(cfg.maxF, cfg.maxV))).attr('fill', 'none').attr('stroke', '#ff0000').attr('stroke-width', 1.5);
  g.append('line').attr('x1', cfg.left).attr('x2', cfg.left).attr('y1', cfg.top).attr('y2', cfg.bottom).attr('stroke', '#222').attr('stroke-width', 1.5);
  g.append('line').attr('x1', cfg.left).attr('x2', cfg.right).attr('y1', cfg.bottom).attr('y2', cfg.bottom).attr('stroke', '#222').attr('stroke-width', 1.5);
  perXTicks.forEach((t, i) => label(g, x(t), cfg.bottom + 18, perXTickLabels[i]));
  perYTicks.forEach((t, i) => label(g, cfg.left - 4, y(t), perYTickLabels[i], { anchor: 'end' }));
  label(g, (cfg.left + cfg.right) / 2, cfg.top - 45, cfg.title1);
  label(g, (cfg.left + cfg.right) / 2, cfg.top - 23, cfg.title2);
  label(g, cfg.left - 52, (cfg.top + cfg.bottom) / 2, 'relative Leistungsdichte', { rotate: true });
  label(g, (cfg.left + cfg.right) / 2, cfg.bottom + 39, 'relative Frequenz');
}

boxPanel({ left: 70, right: 1197, top: 41, bottom: 235, yDomain: [-0.433, 0.831],
  yTicks: exp1YTicks, yTickLabels: exp1YTickLabels,
  q1: exp1Q1, med: exp1Median, q3: exp1Q3, wlo: exp1WhiskerLow, whi: exp1WhiskerHigh, mean: exp1Mean,
  stdUp: exp1StdUpper, stdLo: exp1StdLower, outHi: exp1OutliersHigh, outLo: exp1OutliersLow,
  xLabelBase: 260, title: 'Boxplot des Fehlers aus EXP 1 mit STD (blau)' });

boxPanel({ left: 70, right: 1197, top: 371, bottom: 553, yDomain: [-0.478, 0.531],
  yTicks: exp4YTicks, yTickLabels: exp4YTickLabels,
  q1: exp4Q1, med: exp4Median, q3: exp4Q3, wlo: exp4WhiskerLow, whi: exp4WhiskerHigh, mean: exp4Mean,
  stdUp: exp4StdUpper, stdLo: exp4StdLower, outHi: exp4OutliersHigh, outLo: exp4OutliersLow,
  xLabelBase: 578, title: 'Boxplot des Fehlers aus EXP 4 mit STD (blau)',
  xTitle: 'Prognosehorizont [h]', xTitleY: 589 });

perPanel({ left: 70, right: 557, top: 687, bottom: 889, yellow: exp1Yellow,
  maxF: exp1MaxF, maxV: exp1MaxV, minF: exp1MinF, minV: exp1MinV,
  kbUF: exp1KbUpperF, kbUV: exp1KbUpperV, kbLF: exp1KbLowerF, kbLV: exp1KbLowerV,
  title1: 'Periodogrammtest der Residue aus EXP 1', title2: 'Maximum bei H 21 und Minimum bei H 0' });

perPanel({ left: 710, right: 1197, top: 687, bottom: 889, yellow: exp4Yellow,
  maxF: exp4MaxF, maxV: exp4MaxV, minF: exp4MinF, minV: exp4MinV,
  kbUF: exp4KbUpperF, kbUV: exp4KbUpperV, kbLF: exp4KbLowerF, kbLV: exp4KbLowerV,
  title1: 'Periodogrammtest der Residue aus EXP 4', title2: 'Maximum bei H 21 und Minimum bei H 1' });

// legend
const lg = svg.append('g');
const legendColors = ['#ff0000', '#00ee00', '#0000ff', '#0000ff'];
const legendDash = [null, null, null, '3,2'];
const legRow = d3.scalePoint().domain(legendLabels).range([798, 872]);
lg.append('rect').attr('x', 1013).attr('y', 783).attr('width', 226).attr('height', 104)
  .attr('fill', '#fff').attr('stroke', '#222').attr('stroke-width', 1.5);
legendLabels.forEach((s, i) => {
  lg.append('line').attr('x1', 1023).attr('x2', 1064).attr('y1', legRow(s)).attr('y2', legRow(s))
    .attr('stroke', legendColors[i]).attr('stroke-width', i === 3 ? 1 : 1.5).attr('stroke-dasharray', legendDash[i]);
  label(lg, 1069, legRow(s), s, { anchor: 'start', size: 17 });
});
</script></body></html>
